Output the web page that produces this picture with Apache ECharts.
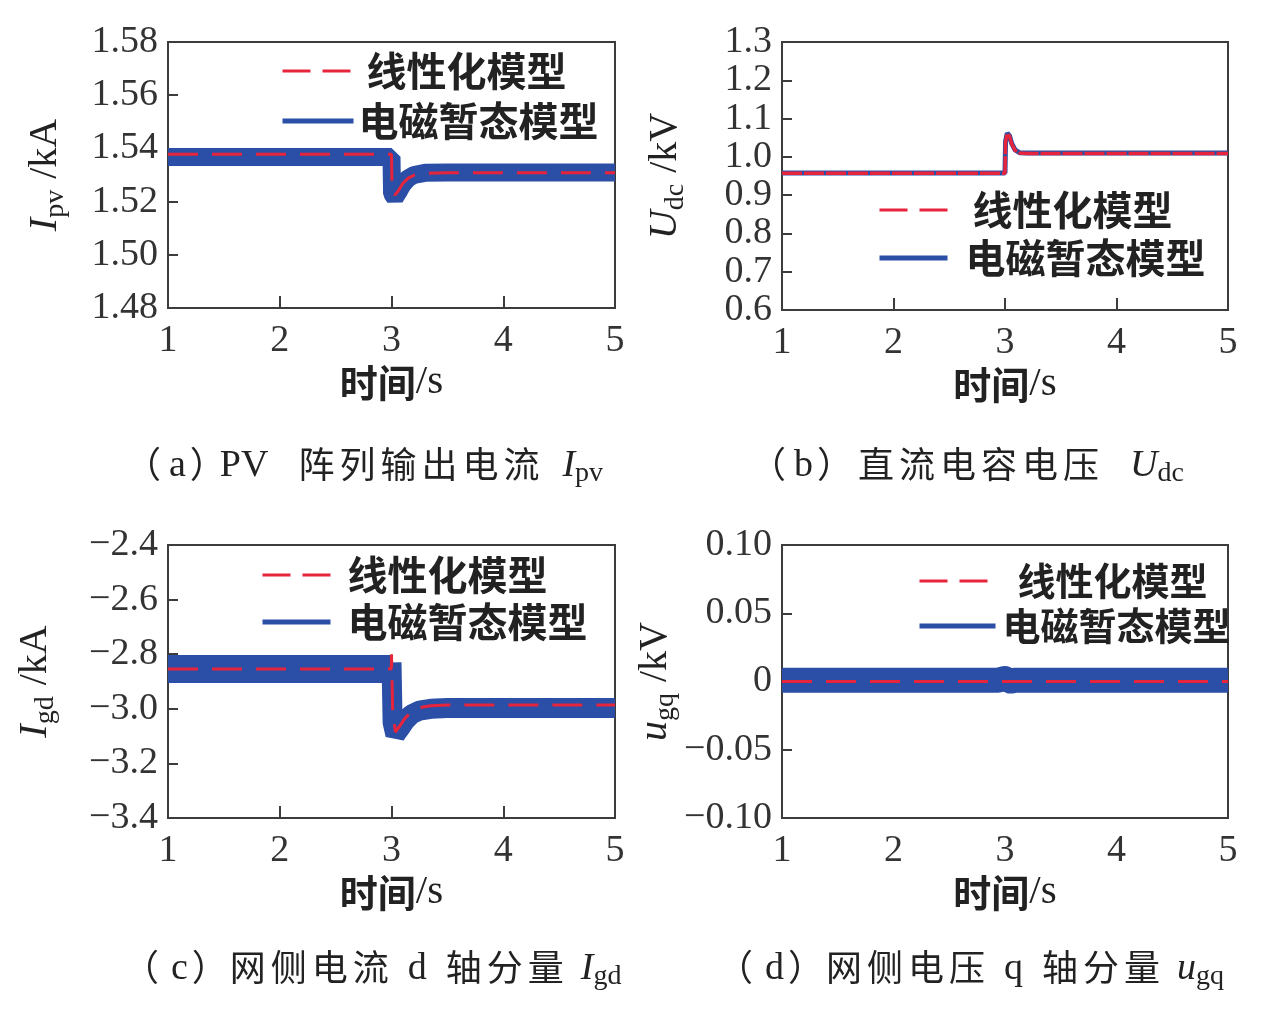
<!DOCTYPE html>
<html>
<head>
<meta charset="utf-8">
<script src="https://cdn.jsdelivr.net/npm/echarts@6/dist/echarts.min.js"></script>
<style>
  html, body { margin: 0; padding: 0; background: #fff; }
  #chart { width: 1283px; height: 1010px; }
</style>
</head>
<body>
<div id="chart"></div>
<script>
// (a) PV array current Ipv, kA
const aTime = [1, 3.0, 3.005, 3.03, 3.06, 3.1, 3.15, 3.2, 3.3, 3.5, 5];
const aLinear = [1.5378, 1.5378, 1.5245, 1.5225, 1.524, 1.5268, 1.5288, 1.5299, 1.5306, 1.5308, 1.5308];
const aEmt = [1.5368, 1.5368, 1.523, 1.5215, 1.5235, 1.5265, 1.5288, 1.53, 1.5308, 1.5309, 1.5309];

// (b) DC capacitor voltage Udc, kV
const bTime = [1, 3.0, 3.005, 3.02, 3.04, 3.06, 3.09, 3.13, 3.2, 5];
const bLinear = [0.957, 0.957, 1.04, 1.061, 1.054, 1.034, 1.017, 1.01, 1.009, 1.009];
const bEmt = [0.958, 0.958, 1.04, 1.062, 1.055, 1.035, 1.018, 1.011, 1.01, 1.01];

// (c) grid-side d-axis current Igd, kA
const cLinTime = [1, 2.998, 3.0, 3.01, 3.035, 3.07, 3.12, 3.18, 3.25, 3.35, 3.5, 5];
const cLinear = [-2.854, -2.854, -2.8, -3.0, -3.085, -3.065, -3.035, -3.01, -2.996, -2.989, -2.986, -2.986];
const cEmtPreTime = [1, 3.0];
const cEmtPre = [-2.854, -2.854];
const cEmtPostTime = [3.0, 3.01, 3.035, 3.07, 3.12, 3.18, 3.25, 3.35, 3.5, 5];
const cEmtPost = [-2.83, -3.05, -3.095, -3.075, -3.045, -3.02, -3.007, -3.0, -2.997, -2.997];

// (d) grid-side q-axis voltage ugq, kV
const dLinTime = [1, 5];
const dLinear = [0, 0];
const dEmtTime = [1, 2.94, 3.0, 3.05, 3.1, 5];
const dEmt = [0.001, 0.001, 0.0022, 0.0003, 0.001, 0.001];

const RED = '#e6243c';
const BLUE = '#2b4ea6';
const AX = '#3c3c3c';
const SERIF = 'Liberation Serif';
const CJK = 'Noto Sans CJK SC';

const grids = [
  { left: 168, top: 42, width: 447, height: 266 },
  { left: 782, top: 42, width: 446, height: 268 },
  { left: 168, top: 545, width: 447, height: 273 },
  { left: 782, top: 545, width: 446, height: 273 }
];

function pairs(t, v) {
  return t.map((x, i) => [x, v[i]]);
}

function xAx(idx) {
  return {
    gridIndex: idx, type: 'value', min: 1, max: 5, interval: 1,
    name: '{c|时间}{n|/s}', nameLocation: 'middle', nameGap: 54,
    nameTextStyle: {
      rich: {
        c: { fontFamily: CJK, fontSize: 38, fontWeight: 'bold', color: '#222' },
        n: { fontFamily: SERIF, fontSize: 41, color: '#222' }
      }
    },
    axisLine: { show: true, lineStyle: { color: AX, width: 2 } },
    axisTick: { inside: true, length: 12, lineStyle: { color: AX, width: 2 } },
    axisLabel: { margin: 14, fontFamily: SERIF, fontSize: 38, color: '#333' },
    splitLine: { show: false }
  };
}

function yAx(idx, min, max, interval, fmt, name, gap) {
  return {
    gridIndex: idx, type: 'value', min: min, max: max, interval: interval,
    name: name, nameLocation: 'middle', nameRotate: 90, nameGap: gap,
    nameTextStyle: {
      rich: {
        i: { fontFamily: SERIF, fontStyle: 'italic', fontSize: 40, color: '#222', lineHeight: 42, verticalAlign: 'bottom', padding: [0, 0, 5, 0] },
        s: { fontFamily: SERIF, fontSize: 28, color: '#222', lineHeight: 28, verticalAlign: 'bottom' },
        n: { fontFamily: SERIF, fontSize: 40, color: '#222', lineHeight: 42, verticalAlign: 'bottom', padding: [0, 0, 5, 11] }
      }
    },
    axisLine: { show: true, lineStyle: { color: AX, width: 2 } },
    axisTick: { inside: true, length: 10, lineStyle: { color: AX, width: 2 } },
    axisLabel: {
      margin: 10, fontFamily: SERIF, fontSize: 38, color: '#333',
      formatter: fmt
    },
    splitLine: { show: false }
  };
}

function fmtFixed(d, zeroPlain) {
  return function (v) {
    if (zeroPlain && Math.abs(v) < 1e-9) return '0';
    return v.toFixed(d).replace('-', '\u2212');
  };
}

function linSeries(idx, data, width, dash) {
  return {
    name: '线性化模型', type: 'line', xAxisIndex: idx, yAxisIndex: idx,
    data: data, symbol: 'none', z: 5,
    lineStyle: { color: RED, width: width, type: dash }
  };
}

function emtSeries(idx, data, width, join) {
  return {
    name: '电磁暂态模型', type: 'line', xAxisIndex: idx, yAxisIndex: idx,
    data: data, symbol: 'none', z: 3,
    lineStyle: { color: BLUE, width: width, join: join || 'bevel' }
  };
}

function legendAt(left, top, itemWidth, gap, fontSize, padRed, padBlue) {
  return {
    orient: 'vertical', left: left, top: top, itemWidth: itemWidth, itemHeight: 14,
    itemGap: gap, selectedMode: false,
    textStyle: { fontFamily: CJK, fontSize: fontSize, fontWeight: 'bold', color: '#222', lineHeight: 40 },
    data: [
      { name: '线性化模型', itemStyle: { opacity: 0 }, lineStyle: { width: 3, type: [28, 12], color: RED }, textStyle: { padding: [0, 0, 0, padRed] } },
      { name: '电磁暂态模型', itemStyle: { opacity: 0 }, lineStyle: { width: 5, type: 'solid', color: BLUE }, textStyle: { padding: [0, 0, 0, padBlue] } }
    ]
  };
}

// caption token styles: o/cl = full-width parens, l = letter in parens,
// k = CJK char (fixed pitch), r = roman, i = italic symbol, s = subscript
const capBase = {
  o: { fontFamily: CJK, fontSize: 36 },
  cl: { fontFamily: CJK, fontSize: 36, width: 30, align: 'left' },
  l: { fontFamily: SERIF, fontSize: 38 },
  k: { fontFamily: CJK, fontSize: 36, width: 41, align: 'left' },
  r: { fontFamily: SERIF, fontSize: 38 },
  i: { fontFamily: SERIF, fontSize: 38, fontStyle: 'italic' },
  s: { fontFamily: SERIF, fontSize: 28, lineHeight: 28 }
};
const capLift = { o: 6, cl: 6, k: 6, l: 3, r: 3, i: 3, s: 0 };

function caption(x, y, parts) {
  const rich = {};
  let text = '';
  parts.forEach((p, n) => {
    const key = 't' + n;
    rich[key] = Object.assign({ fill: '#222', lineHeight: 42, verticalAlign: 'bottom' }, capBase[p[0]], {
      padding: [0, 0, capLift[p[0]], p[2] || 0]
    });
    text += '{' + key + '|' + p[1] + '}';
  });
  return {
    type: 'text', x: x, y: y,
    style: { text: text, rich: rich, verticalAlign: 'middle', align: 'left' }
  };
}

const chart = echarts.init(document.getElementById('chart'));
chart.setOption({
  backgroundColor: '#fff',
  animation: false,
  grid: grids.map(g => Object.assign({ show: true, borderColor: AX, borderWidth: 2, backgroundColor: 'transparent' }, g)),
  xAxis: [xAx(0), xAx(1), xAx(2), xAx(3)],
  yAxis: [
    yAx(0, 1.48, 1.58, 0.02, fmtFixed(2), '{i|I}{s|pv}{n|/kA}', 98),
    yAx(1, 0.6, 1.3, 0.1, fmtFixed(1), '{i|U}{s|dc}{n|/kV}', 92),
    yAx(2, -3.4, -2.4, 0.2, fmtFixed(1), '{i|I}{s|gd}{n|/kA}', 108),
    yAx(3, -0.1, 0.1, 0.05, fmtFixed(2, true), '{i|u}{s|gq}{n|/kV}', 102)
  ],
  legend: [
    legendAt(275, 46, 71, 10, 40, 8, 0),
    legendAt(872, 185, 68, 8, 40, 20, 13),
    legendAt(255, 550, 68, 7, 40, 12, 12),
    legendAt(912, 556, 76, 5, 38, 17, 2)
  ],
  series: [
    emtSeries(0, pairs(aTime, aEmt), 18),
    linSeries(0, pairs(aTime, aLinear), 3, [30, 14]),
    emtSeries(1, pairs(bTime, bEmt), 5),
    linSeries(1, pairs(bTime, bLinear), 3.5, [20, 2]),
    emtSeries(2, pairs(cEmtPreTime, cEmtPre), 28),
    emtSeries(2, pairs(cEmtPostTime, cEmtPost), 20),
    linSeries(2, pairs(cLinTime, cLinear), 3, [30, 14]),
    emtSeries(3, pairs(dEmtTime, dEmt), 25, 'round'),
    linSeries(3, pairs(dLinTime, dLinear), 3, [30, 14])
  ],
  graphic: [
    caption(125, 467, [['o', '（'], ['l', 'a', 8], ['cl', '）', 4], ['r', 'PV'],
      ['k', '阵', 30], ['k', '列'], ['k', '输'], ['k', '出'], ['k', '电'], ['k', '流'],
      ['i', 'I', 18], ['s', 'pv']]),
    caption(750, 467, [['o', '（'], ['l', 'b', 8], ['cl', '）', 4],
      ['k', '直', 11], ['k', '流'], ['k', '电'], ['k', '容'], ['k', '电'], ['k', '压'],
      ['i', 'U', 26], ['s', 'dc']]),
    caption(123, 970, [['o', '（'], ['l', 'c', 12], ['cl', '）', 4],
      ['k', '网', 8], ['k', '侧'], ['k', '电'], ['k', '流'], ['r', 'd', 14],
      ['k', '轴', 19], ['k', '分'], ['k', '量'], ['i', 'I', 12], ['s', 'gd']]),
    caption(717, 970, [['o', '（'], ['l', 'd', 12], ['cl', '）', 4],
      ['k', '网', 8], ['k', '侧'], ['k', '电'], ['k', '压'], ['r', 'q', 14],
      ['k', '轴', 19], ['k', '分'], ['k', '量'], ['i', 'u', 12], ['s', 'gq']])
  ]
});
</script>
</body>
</html>
